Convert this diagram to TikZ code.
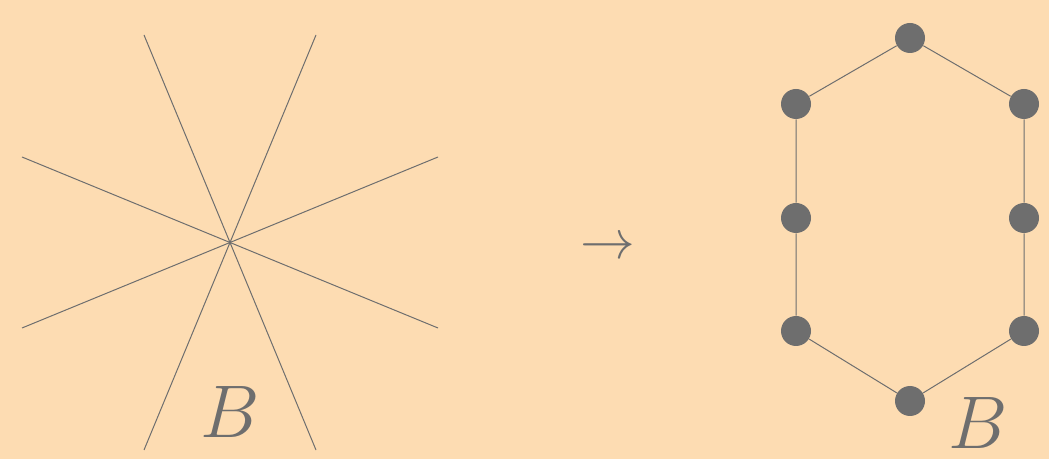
\documentclass[tikz,border=0pt]{standalone}
\usepackage{amsmath}
\usepackage{tikz}
\usepackage{xcolor}
\usetikzlibrary{positioning}
\definecolor{Peach}{HTML}{FDDCB2}
\definecolor{DotGray}{HTML}{6E6E6E}

\begin{document}
\begin{tikzpicture}[x=0.5pt, y=-0.5pt,
    vertex/.style={circle, fill=DotGray, inner sep=0pt, minimum size=15pt},
    edge/.style={DotGray, line width=0.5pt},
    biglabel/.style={DotGray, scale=1.5, font=\Huge, inner sep=0pt}]
    % Background
    \fill[Peach] (0, 0) rectangle (1049, 459);
    \useasboundingbox (0, 0) rectangle (1049, 459);

    % Star of lines
    \draw[edge] (144, 35) -- (316, 450);
    \draw[edge] (316, 35) -- (144, 450);
    \draw[edge] (22, 157) -- (438, 328);
    \draw[edge] (22, 328) -- (438, 157);
    \node[biglabel] (bl) at (230, 412) {$B$};

    % Arrow
    \node[DotGray, scale=1.1, font=\Huge] (arr) at (608, 248) {$\rightarrow$};

    % Cycle
    \node[vertex] (t)  at (910, 38) {};
    \node[vertex] (ul) at (796, 104) {};
    \node[vertex] (ur) at (1024, 104) {};
    \node[vertex] (ml) at (796, 218) {};
    \node[vertex] (mr) at (1024, 218) {};
    \node[vertex] (ll) at (796, 331) {};
    \node[vertex] (lr) at (1024, 331) {};
    \node[vertex] (b)  at (910, 401) {};
    \draw[edge] (t) -- (ur) -- (mr) -- (lr) -- (b) -- (ll) -- (ml) -- (ul) -- (t);
    \node[biglabel] (br) at (978, 423) {$B$};
\end{tikzpicture}
\end{document}
